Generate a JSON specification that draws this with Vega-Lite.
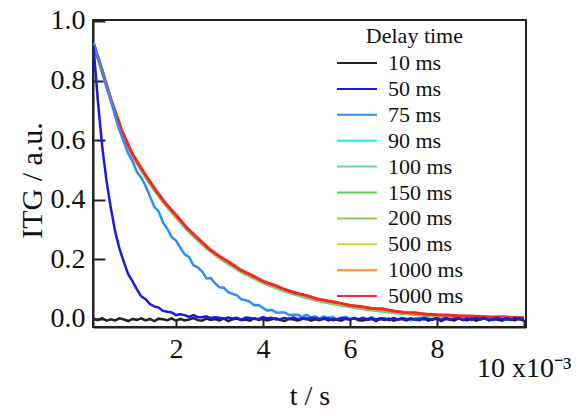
{
  "$schema": "https://vega.github.io/schema/vega-lite/v6.json",
  "width": 433,
  "height": 307,
  "autosize": "none",
  "padding": {"left": 93, "top": 20, "right": 55, "bottom": 89},
  "background": "white",
  "config": {
    "view": {"stroke": "#222222", "strokeWidth": 2},
    "font": "Liberation Serif",
    "axis": {
      "grid": false,
      "domainColor": "#222222",
      "domainWidth": 2,
      "tickColor": "#222222",
      "tickWidth": 2,
      "labelFont": "Liberation Serif",
      "labelFontSize": 28,
      "labelColor": "#111111",
      "titleFont": "Liberation Serif",
      "titleFontSize": 30,
      "titleFontWeight": "normal",
      "titleColor": "#111111"
    }
  },
  "datasets": {
    "fast": [
      {"t":0.1,"10 ms":0.001,"50 ms":0.918,"75 ms":0.926},
      {"t":0.2,"10 ms":-0.004,"50 ms":0.735,"75 ms":0.880},
      {"t":0.3,"10 ms":0.003,"50 ms":0.581,"75 ms":0.837},
      {"t":0.4,"10 ms":-0.006,"50 ms":0.464,"75 ms":0.778},
      {"t":0.5,"10 ms":-0.001,"50 ms":0.372,"75 ms":0.738},
      {"t":0.6,"10 ms":-0.005,"50 ms":0.293,"75 ms":0.679},
      {"t":0.7,"10 ms":0.002,"50 ms":0.235,"75 ms":0.633},
      {"t":0.8,"10 ms":-0.002,"50 ms":0.191,"75 ms":0.594},
      {"t":0.9,"10 ms":-0.007,"50 ms":0.150,"75 ms":0.555},
      {"t":1.0,"10 ms":0.000,"50 ms":0.126,"75 ms":0.529},
      {"t":1.1,"10 ms":-0.003,"50 ms":0.099,"75 ms":0.493},
      {"t":1.2,"10 ms":0.002,"50 ms":0.076,"75 ms":0.474},
      {"t":1.3,"10 ms":-0.005,"50 ms":0.066,"75 ms":0.446},
      {"t":1.4,"10 ms":0.000,"50 ms":0.050,"75 ms":0.411},
      {"t":1.5,"10 ms":-0.007,"50 ms":0.042,"75 ms":0.376},
      {"t":1.6,"10 ms":0.001,"50 ms":0.038,"75 ms":0.361},
      {"t":1.7,"10 ms":-0.001,"50 ms":0.027,"75 ms":0.323},
      {"t":1.8,"10 ms":-0.004,"50 ms":0.024,"75 ms":0.303},
      {"t":1.9,"10 ms":0.002,"50 ms":0.022,"75 ms":0.274},
      {"t":2.0,"10 ms":-0.006,"50 ms":0.013,"75 ms":0.263},
      {"t":2.1,"10 ms":0.000,"50 ms":0.016,"75 ms":0.238},
      {"t":2.2,"10 ms":-0.005,"50 ms":0.013,"75 ms":0.217},
      {"t":2.3,"10 ms":-0.002,"50 ms":0.007,"75 ms":0.208},
      {"t":2.4,"10 ms":0.003,"50 ms":0.013,"75 ms":0.180},
      {"t":2.5,"10 ms":-0.004,"50 ms":0.006,"75 ms":0.173},
      {"t":2.6,"10 ms":-0.006,"50 ms":0.006,"75 ms":0.159},
      {"t":2.7,"10 ms":0.001,"50 ms":0.009,"75 ms":0.136},
      {"t":2.8,"10 ms":-0.003,"50 ms":0.003,"75 ms":0.137},
      {"t":2.9,"10 ms":0.000,"50 ms":0.006,"75 ms":0.119},
      {"t":3.0,"10 ms":-0.005,"50 ms":0.004,"75 ms":0.106},
      {"t":3.1,"10 ms":0.002,"50 ms":0.000,"75 ms":0.105},
      {"t":3.2,"10 ms":-0.007,"50 ms":0.005,"75 ms":0.090},
      {"t":3.3,"10 ms":-0.001,"50 ms":0.002,"75 ms":0.084},
      {"t":3.4,"10 ms":0.001,"50 ms":0.004,"75 ms":0.079},
      {"t":3.5,"10 ms":-0.004,"50 ms":-0.002,"75 ms":0.066},
      {"t":3.6,"10 ms":-0.002,"50 ms":0.005,"75 ms":0.063},
      {"t":3.7,"10 ms":-0.006,"50 ms":0.003,"75 ms":0.057},
      {"t":3.8,"10 ms":0.003,"50 ms":0.000,"75 ms":0.046},
      {"t":3.9,"10 ms":-0.003,"50 ms":0.000,"75 ms":0.047},
      {"t":4.0,"10 ms":0.000,"50 ms":0.006,"75 ms":0.037},
      {"t":4.1,"10 ms":-0.005,"50 ms":0.002,"75 ms":0.028},
      {"t":4.2,"10 ms":-0.001,"50 ms":0.004,"75 ms":0.031},
      {"t":4.3,"10 ms":0.002,"50 ms":-0.002,"75 ms":0.022},
      {"t":4.4,"10 ms":-0.004,"50 ms":0.000,"75 ms":0.022},
      {"t":4.5,"10 ms":-0.007,"50 ms":0.003,"75 ms":0.022},
      {"t":4.6,"10 ms":0.001,"50 ms":-0.001,"75 ms":0.013},
      {"t":4.7,"10 ms":-0.002,"50 ms":0.005,"75 ms":0.014},
      {"t":4.8,"10 ms":-0.005,"50 ms":-0.001,"75 ms":0.014},
      {"t":4.9,"10 ms":0.000,"50 ms":0.002,"75 ms":0.006},
      {"t":5.0,"10 ms":0.002,"50 ms":-0.002,"75 ms":0.014},
      {"t":5.1,"10 ms":-0.006,"50 ms":0.003,"75 ms":0.005},
      {"t":5.2,"10 ms":-0.001,"50 ms":0.002,"75 ms":0.009},
      {"t":5.3,"10 ms":-0.004,"50 ms":-0.002,"75 ms":0.001},
      {"t":5.4,"10 ms":0.003,"50 ms":0.000,"75 ms":0.009},
      {"t":5.5,"10 ms":-0.005,"50 ms":0.002,"75 ms":0.003},
      {"t":5.6,"10 ms":0.000,"50 ms":-0.004,"75 ms":0.007},
      {"t":5.7,"10 ms":-0.003,"50 ms":-0.002,"75 ms":-0.001},
      {"t":5.8,"10 ms":-0.006,"50 ms":0.003,"75 ms":0.003},
      {"t":5.9,"10 ms":0.001,"50 ms":0.001,"75 ms":0.007},
      {"t":6.0,"10 ms":-0.002,"50 ms":-0.002,"75 ms":0.000},
      {"t":6.1,"10 ms":0.003,"50 ms":0.002,"75 ms":0.003},
      {"t":6.2,"10 ms":-0.004,"50 ms":-0.001,"75 ms":-0.003},
      {"t":6.3,"10 ms":-0.005,"50 ms":0.004,"75 ms":0.004},
      {"t":6.4,"10 ms":-0.001,"50 ms":-0.003,"75 ms":-0.001},
      {"t":6.5,"10 ms":0.002,"50 ms":0.000,"75 ms":0.006},
      {"t":6.6,"10 ms":-0.007,"50 ms":-0.002,"75 ms":-0.002},
      {"t":6.7,"10 ms":0.000,"50 ms":0.002,"75 ms":0.000},
      {"t":6.8,"10 ms":-0.003,"50 ms":0.001,"75 ms":0.002},
      {"t":6.9,"10 ms":0.001,"50 ms":-0.004,"75 ms":-0.004},
      {"t":7.0,"10 ms":-0.006,"50 ms":0.003,"75 ms":0.004},
      {"t":7.1,"10 ms":-0.002,"50 ms":-0.002,"75 ms":-0.002},
      {"t":7.2,"10 ms":0.000,"50 ms":0.002,"75 ms":0.003},
      {"t":7.3,"10 ms":-0.005,"50 ms":-0.001,"75 ms":0.000},
      {"t":7.4,"10 ms":0.002,"50 ms":0.002,"75 ms":-0.005},
      {"t":7.5,"10 ms":-0.003,"50 ms":-0.003,"75 ms":0.002},
      {"t":7.6,"10 ms":-0.004,"50 ms":-0.002,"75 ms":0.004},
      {"t":7.7,"10 ms":0.003,"50 ms":0.004,"75 ms":-0.003},
      {"t":7.8,"10 ms":-0.006,"50 ms":0.000,"75 ms":0.001},
      {"t":7.9,"10 ms":-0.001,"50 ms":-0.002,"75 ms":-0.002},
      {"t":8.0,"10 ms":0.001,"50 ms":0.002,"75 ms":0.003},
      {"t":8.1,"10 ms":-0.007,"50 ms":-0.003,"75 ms":-0.004},
      {"t":8.2,"10 ms":0.000,"50 ms":0.003,"75 ms":0.005},
      {"t":8.3,"10 ms":-0.002,"50 ms":-0.002,"75 ms":-0.001},
      {"t":8.4,"10 ms":-0.005,"50 ms":0.001,"75 ms":-0.003},
      {"t":8.5,"10 ms":0.002,"50 ms":0.002,"75 ms":0.002},
      {"t":8.6,"10 ms":-0.003,"50 ms":-0.004,"75 ms":0.000},
      {"t":8.7,"10 ms":-0.004,"50 ms":0.002,"75 ms":0.004},
      {"t":8.8,"10 ms":0.001,"50 ms":-0.002,"75 ms":-0.005},
      {"t":8.9,"10 ms":-0.006,"50 ms":0.003,"75 ms":0.001},
      {"t":9.0,"10 ms":-0.001,"50 ms":-0.001,"75 ms":-0.002},
      {"t":9.1,"10 ms":0.003,"50 ms":0.002,"75 ms":0.003},
      {"t":9.2,"10 ms":-0.005,"50 ms":-0.004,"75 ms":-0.001},
      {"t":9.3,"10 ms":0.000,"50 ms":0.000,"75 ms":-0.004},
      {"t":9.4,"10 ms":-0.003,"50 ms":0.003,"75 ms":0.002},
      {"t":9.5,"10 ms":-0.006,"50 ms":-0.002,"75 ms":0.005},
      {"t":9.6,"10 ms":0.001,"50 ms":0.001,"75 ms":-0.003},
      {"t":9.7,"10 ms":-0.002,"50 ms":-0.003,"75 ms":0.000},
      {"t":9.8,"10 ms":-0.004,"50 ms":0.004,"75 ms":0.003},
      {"t":9.9,"10 ms":0.002,"50 ms":-0.002,"75 ms":-0.002},
      {"t":10.0,"10 ms":-0.007,"50 ms":0.002,"75 ms":-0.004}
    ],
    "slow": [
      {"t":0.1,"90 ms":0.924,"100 ms":0.924,"150 ms":0.924,"200 ms":0.924,"500 ms":0.925,"1000 ms":0.925,"5000 ms":0.925},
      {"t":0.25,"90 ms":0.854,"100 ms":0.854,"150 ms":0.855,"200 ms":0.855,"500 ms":0.855,"1000 ms":0.856,"5000 ms":0.857},
      {"t":0.5,"90 ms":0.735,"100 ms":0.735,"150 ms":0.736,"200 ms":0.736,"500 ms":0.737,"1000 ms":0.737,"5000 ms":0.737},
      {"t":0.75,"90 ms":0.627,"100 ms":0.628,"150 ms":0.628,"200 ms":0.629,"500 ms":0.629,"1000 ms":0.630,"5000 ms":0.633},
      {"t":1.0,"90 ms":0.549,"100 ms":0.550,"150 ms":0.550,"200 ms":0.551,"500 ms":0.552,"1000 ms":0.553,"5000 ms":0.552},
      {"t":1.25,"90 ms":0.487,"100 ms":0.488,"150 ms":0.489,"200 ms":0.490,"500 ms":0.491,"1000 ms":0.492,"5000 ms":0.494},
      {"t":1.5,"90 ms":0.433,"100 ms":0.434,"150 ms":0.435,"200 ms":0.436,"500 ms":0.437,"1000 ms":0.438,"5000 ms":0.439},
      {"t":1.75,"90 ms":0.384,"100 ms":0.385,"150 ms":0.386,"200 ms":0.387,"500 ms":0.388,"1000 ms":0.389,"5000 ms":0.389},
      {"t":2.0,"90 ms":0.341,"100 ms":0.342,"150 ms":0.343,"200 ms":0.344,"500 ms":0.345,"1000 ms":0.346,"5000 ms":0.349},
      {"t":2.25,"90 ms":0.300,"100 ms":0.301,"150 ms":0.302,"200 ms":0.303,"500 ms":0.304,"1000 ms":0.305,"5000 ms":0.305},
      {"t":2.5,"90 ms":0.264,"100 ms":0.265,"150 ms":0.266,"200 ms":0.267,"500 ms":0.268,"1000 ms":0.269,"5000 ms":0.271},
      {"t":2.75,"90 ms":0.232,"100 ms":0.233,"150 ms":0.234,"200 ms":0.235,"500 ms":0.236,"1000 ms":0.237,"5000 ms":0.236},
      {"t":3.0,"90 ms":0.204,"100 ms":0.205,"150 ms":0.206,"200 ms":0.207,"500 ms":0.208,"1000 ms":0.209,"5000 ms":0.210},
      {"t":3.25,"90 ms":0.180,"100 ms":0.181,"150 ms":0.182,"200 ms":0.183,"500 ms":0.184,"1000 ms":0.185,"5000 ms":0.188},
      {"t":3.5,"90 ms":0.158,"100 ms":0.159,"150 ms":0.160,"200 ms":0.161,"500 ms":0.162,"1000 ms":0.163,"5000 ms":0.163},
      {"t":3.75,"90 ms":0.139,"100 ms":0.140,"150 ms":0.141,"200 ms":0.142,"500 ms":0.143,"1000 ms":0.144,"5000 ms":0.146},
      {"t":4.0,"90 ms":0.122,"100 ms":0.123,"150 ms":0.124,"200 ms":0.125,"500 ms":0.126,"1000 ms":0.127,"5000 ms":0.126},
      {"t":4.25,"90 ms":0.107,"100 ms":0.108,"150 ms":0.109,"200 ms":0.110,"500 ms":0.111,"1000 ms":0.112,"5000 ms":0.114},
      {"t":4.5,"90 ms":0.093,"100 ms":0.094,"150 ms":0.095,"200 ms":0.096,"500 ms":0.097,"1000 ms":0.098,"5000 ms":0.099},
      {"t":4.75,"90 ms":0.082,"100 ms":0.083,"150 ms":0.084,"200 ms":0.085,"500 ms":0.086,"1000 ms":0.087,"5000 ms":0.087},
      {"t":5.0,"90 ms":0.071,"100 ms":0.072,"150 ms":0.073,"200 ms":0.074,"500 ms":0.075,"1000 ms":0.076,"5000 ms":0.079},
      {"t":5.25,"90 ms":0.062,"100 ms":0.063,"150 ms":0.064,"200 ms":0.065,"500 ms":0.066,"1000 ms":0.067,"5000 ms":0.067},
      {"t":5.5,"90 ms":0.054,"100 ms":0.055,"150 ms":0.056,"200 ms":0.057,"500 ms":0.058,"1000 ms":0.059,"5000 ms":0.060},
      {"t":5.75,"90 ms":0.047,"100 ms":0.048,"150 ms":0.049,"200 ms":0.050,"500 ms":0.051,"1000 ms":0.052,"5000 ms":0.054},
      {"t":6.0,"90 ms":0.041,"100 ms":0.042,"150 ms":0.043,"200 ms":0.044,"500 ms":0.045,"1000 ms":0.046,"5000 ms":0.045},
      {"t":6.25,"90 ms":0.035,"100 ms":0.036,"150 ms":0.037,"200 ms":0.038,"500 ms":0.039,"1000 ms":0.040,"5000 ms":0.042},
      {"t":6.5,"90 ms":0.030,"100 ms":0.031,"150 ms":0.032,"200 ms":0.033,"500 ms":0.034,"1000 ms":0.035,"5000 ms":0.035},
      {"t":6.75,"90 ms":0.026,"100 ms":0.027,"150 ms":0.028,"200 ms":0.029,"500 ms":0.030,"1000 ms":0.031,"5000 ms":0.034},
      {"t":7.0,"90 ms":0.021,"100 ms":0.022,"150 ms":0.023,"200 ms":0.024,"500 ms":0.025,"1000 ms":0.026,"5000 ms":0.027},
      {"t":7.25,"90 ms":0.018,"100 ms":0.019,"150 ms":0.019,"200 ms":0.020,"500 ms":0.021,"1000 ms":0.022,"5000 ms":0.022},
      {"t":7.5,"90 ms":0.015,"100 ms":0.016,"150 ms":0.016,"200 ms":0.017,"500 ms":0.018,"1000 ms":0.019,"5000 ms":0.021},
      {"t":7.75,"90 ms":0.012,"100 ms":0.013,"150 ms":0.013,"200 ms":0.014,"500 ms":0.015,"1000 ms":0.016,"5000 ms":0.016},
      {"t":8.0,"90 ms":0.009,"100 ms":0.010,"150 ms":0.010,"200 ms":0.011,"500 ms":0.012,"1000 ms":0.013,"5000 ms":0.014},
      {"t":8.25,"90 ms":0.008,"100 ms":0.009,"150 ms":0.009,"200 ms":0.010,"500 ms":0.010,"1000 ms":0.011,"5000 ms":0.013},
      {"t":8.5,"90 ms":0.007,"100 ms":0.008,"150 ms":0.008,"200 ms":0.009,"500 ms":0.009,"1000 ms":0.010,"5000 ms":0.010},
      {"t":8.75,"90 ms":0.005,"100 ms":0.006,"150 ms":0.006,"200 ms":0.007,"500 ms":0.007,"1000 ms":0.008,"5000 ms":0.010},
      {"t":9.0,"90 ms":0.004,"100 ms":0.005,"150 ms":0.005,"200 ms":0.006,"500 ms":0.006,"1000 ms":0.007,"5000 ms":0.008},
      {"t":9.25,"90 ms":0.004,"100 ms":0.004,"150 ms":0.005,"200 ms":0.005,"500 ms":0.006,"1000 ms":0.006,"5000 ms":0.006},
      {"t":9.5,"90 ms":0.003,"100 ms":0.003,"150 ms":0.004,"200 ms":0.004,"500 ms":0.005,"1000 ms":0.005,"5000 ms":0.007},
      {"t":9.75,"90 ms":0.002,"100 ms":0.002,"150 ms":0.003,"200 ms":0.003,"500 ms":0.004,"1000 ms":0.004,"5000 ms":0.005},
      {"t":10.0,"90 ms":0.001,"100 ms":0.001,"150 ms":0.002,"200 ms":0.002,"500 ms":0.003,"1000 ms":0.003,"5000 ms":0.003}
    ]
  },
  "encoding": {
    "x": {
      "field": "t",
      "type": "quantitative",
      "scale": {"domain": [0.09, 10.05], "nice": false, "zero": false},
      "axis": {
        "values": [2, 4, 6, 8, 10],
        "format": "d",
        "tickSize": -8,
        "labelFlush": false,
        "labelPadding": {"condition": {"test": "datum.value == 10", "value": 35}, "value": 16},
        "labelExpr": "datum.value == 10 ? '10 x10⁻³' : datum.label",
        "title": "t / s",
        "titleFontSize": 28,
        "titleY": 55,
        "titleBaseline": "top"
      }
    },
    "y": {
      "field": "v",
      "type": "quantitative",
      "scale": {"domain": [-0.027, 1.003], "nice": false, "zero": false},
      "axis": {
        "values": [0, 0.2, 0.4, 0.6, 0.8, 1.0],
        "format": ".1f",
        "tickSize": -12,
        "labelPadding": 20,
        "title": "ITG / a.u.",
        "titlePadding": 3,
        "titleY": 160
      }
    },
    "color": {
      "field": "series",
      "type": "nominal",
      "scale": {
        "domain": ["10 ms", "50 ms", "75 ms", "90 ms", "100 ms", "150 ms", "200 ms", "500 ms", "1000 ms", "5000 ms"],
        "range": ["#222222", "#1a1ae6", "#2f8cff", "#22e6ee", "#62d99c", "#55cc55", "#8ccc50", "#cfcf40", "#ff8a22", "#ee2a2a"]
      },
      "legend": {
        "orient": "none",
        "legendX": 253,
        "legendY": 6,
        "title": "Delay time",
        "titleFont": "Liberation Serif",
        "titleFontSize": 22,
        "titleFontWeight": "normal",
        "titleColor": "#111111",
        "titleAnchor": "end",
        "titlePadding": 4,
        "labelFont": "Liberation Serif",
        "labelFontSize": 22,
        "labelColor": "#111111",
        "labelOffset": 20,
        "symbolType": "M-2,0H2",
        "symbolSize": 400,
        "symbolStrokeWidth": 2,
        "rowPadding": 3.9,
        "padding": 0,
        "symbolLimit": 0
      }
    }
  },
  "layer": [
    {
      "data": {"name": "slow"},
      "transform": [{"fold": ["90 ms", "100 ms", "150 ms", "200 ms", "500 ms", "1000 ms", "5000 ms"], "as": ["series", "v"]}],
      "mark": {"type": "line", "strokeWidth": 3, "clip": true}
    },
    {
      "data": {"name": "fast"},
      "transform": [{"fold": ["75 ms", "10 ms", "50 ms"], "as": ["series", "v"]}],
      "mark": {"type": "line", "strokeWidth": 2.5, "clip": true}
    }
  ]
}
